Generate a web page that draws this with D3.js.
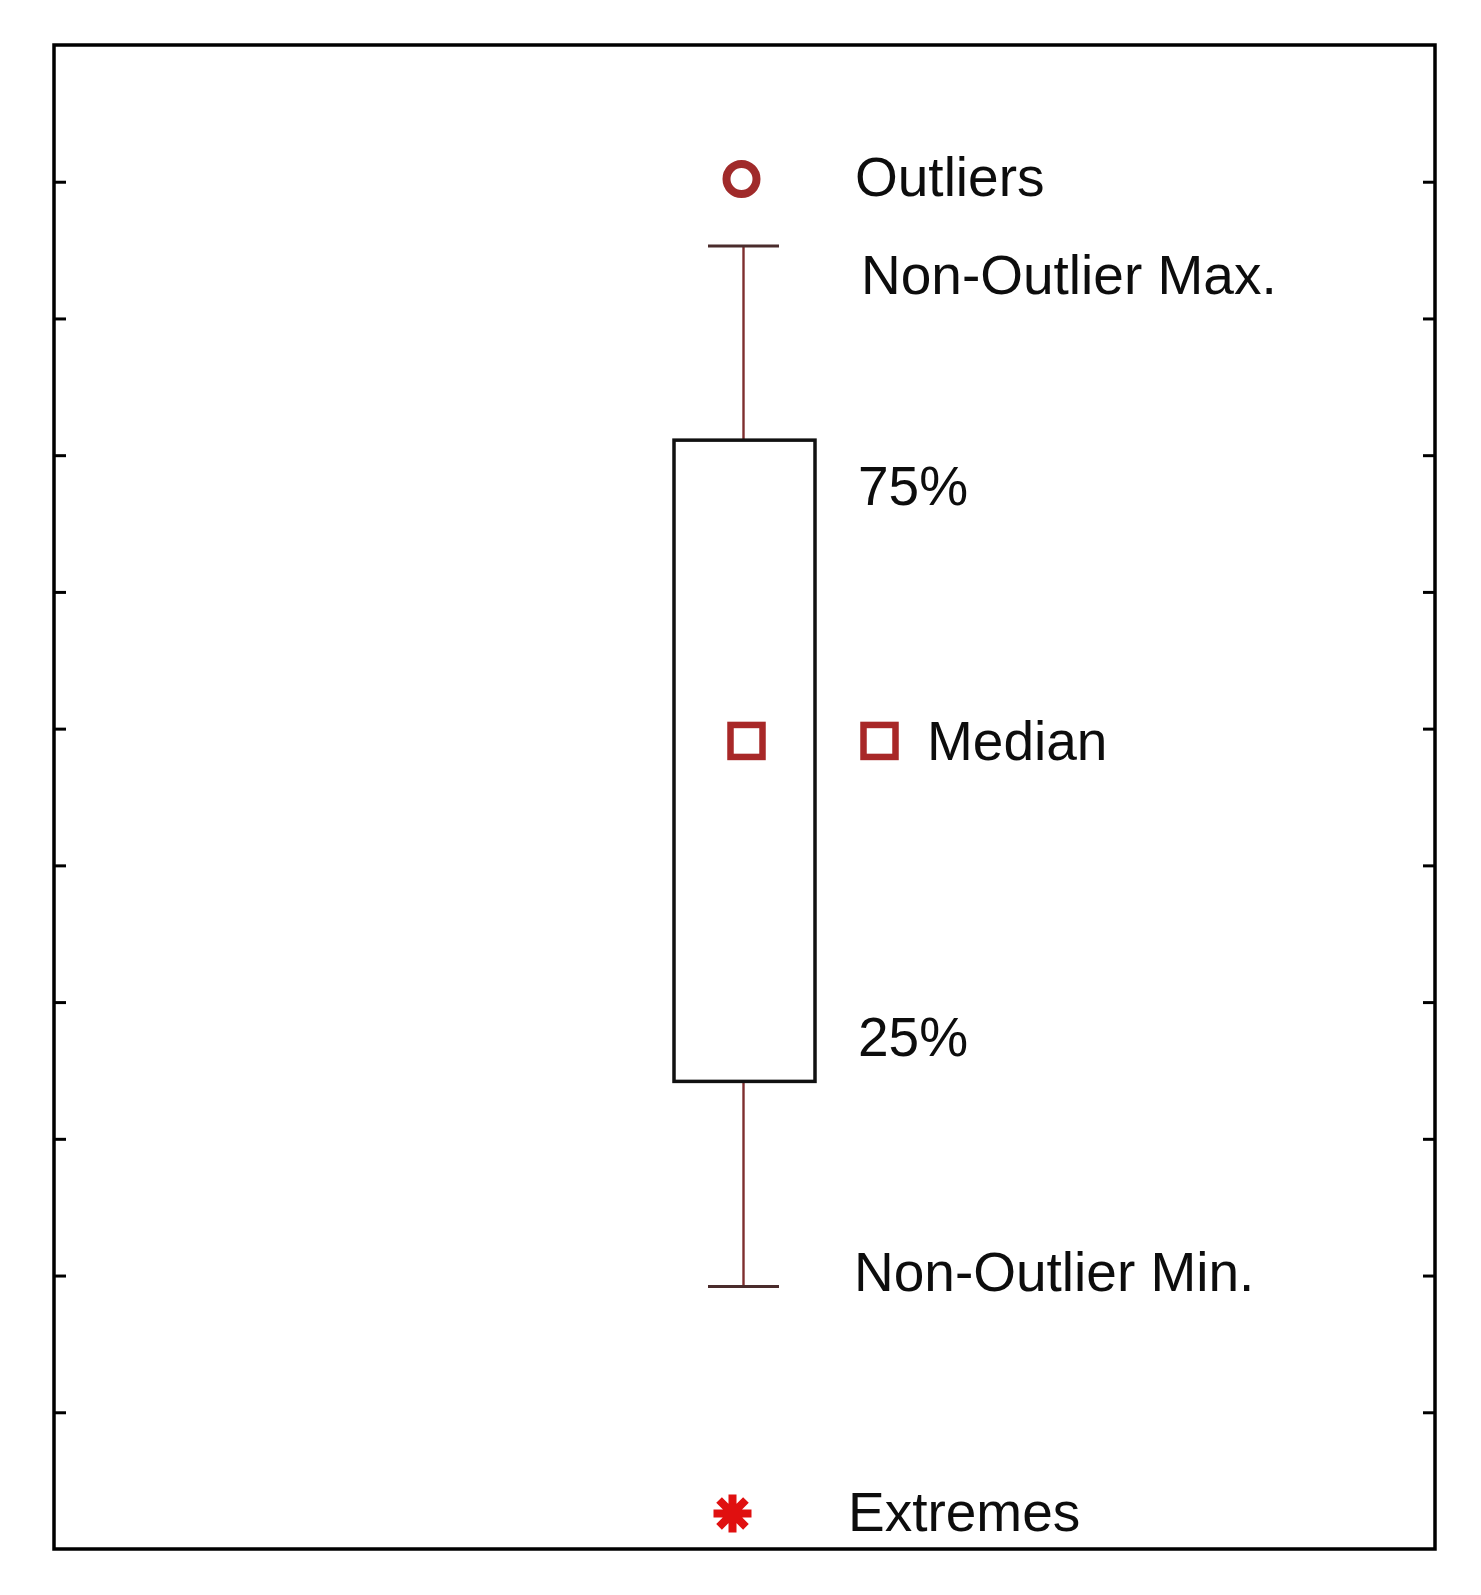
<!DOCTYPE html>
<html>
<head>
<meta charset="utf-8">
<script src="https://cdn.jsdelivr.net/npm/d3@7"></script>
<style>
  html, body { margin: 0; padding: 0; background: #fff; }
  svg { display: block; }
  text { font-family: "Liberation Sans", Arial, sans-serif; fill: #0d0d0d; }
</style>
</head>
<body>
<div id="chart"></div>
<script>
// ---- data ----
const categories = ["Sample"];
const yDomain = [0, 11];
const yTickValues = [1, 2, 3, 4, 5, 6, 7, 8, 9, 10];
const nonOutlierMax = [9.53];
const q75 = [8.11];
const median = [5.91];
const q25 = [3.42];
const nonOutlierMin = [1.92];
const outliers = [10.02];
const extremes = [0.26];
const labelTexts = ["Outliers", "Non-Outlier Max.", "75%", "Median", "25%", "Non-Outlier Min.", "Extremes"];
const labelAnchors = [outliers[0], nonOutlierMax[0], q75[0], median[0], q25[0], nonOutlierMin[0], extremes[0]];

// ---- layout ----
const W = 1481, H = 1595;
const frame = { left: 54, top: 45, right: 1435, bottom: 1549 };

const svg = d3.select("#chart").append("svg").attr("width", W).attr("height", H);

const y = d3.scaleLinear().domain(yDomain).range([frame.bottom, frame.top]);
const x = d3.scaleBand().domain(categories).range([frame.left, frame.right]).paddingInner(0).paddingOuter(0);
const cx = x(categories[0]) + x.bandwidth() / 2;

// ticks (inward, no labels)
const leftAxis = d3.axisRight(y).tickValues(yTickValues).tickSize(12).tickFormat("");
const rightAxis = d3.axisLeft(y).tickValues(yTickValues).tickSize(12).tickFormat("");
const gl = svg.append("g").attr("transform", `translate(${frame.left},0)`).call(leftAxis);
const gr = svg.append("g").attr("transform", `translate(${frame.right},0)`).call(rightAxis);
[gl, gr].forEach(g => {
  g.select(".domain").remove();
  g.selectAll(".tick line").attr("stroke", "#000").attr("stroke-width", 3);
});

// frame
svg.append("rect")
  .attr("x", frame.left).attr("y", frame.top)
  .attr("width", frame.right - frame.left).attr("height", frame.bottom - frame.top)
  .attr("fill", "none").attr("stroke", "#000").attr("stroke-width", 3.5);

const boxW = 141, capW = 71;
const wx = cx - 1;
const g = svg.append("g");

// whiskers
g.append("line").attr("x1", wx).attr("x2", wx).attr("y1", y(nonOutlierMax[0])).attr("y2", y(q75[0]))
  .attr("stroke", "#7e2e2e").attr("stroke-width", 2.4);
g.append("line").attr("x1", wx).attr("x2", wx).attr("y1", y(q25[0])).attr("y2", y(nonOutlierMin[0]))
  .attr("stroke", "#7e2e2e").attr("stroke-width", 2.4);
g.append("line").attr("x1", wx - capW / 2).attr("x2", wx + capW / 2).attr("y1", y(nonOutlierMax[0])).attr("y2", y(nonOutlierMax[0]))
  .attr("stroke", "#4a2c2c").attr("stroke-width", 2.8);
g.append("line").attr("x1", wx - capW / 2).attr("x2", wx + capW / 2).attr("y1", y(nonOutlierMin[0])).attr("y2", y(nonOutlierMin[0]))
  .attr("stroke", "#4a2c2c").attr("stroke-width", 2.8);

// box
g.append("rect")
  .attr("x", cx - boxW / 2).attr("y", y(q75[0]))
  .attr("width", boxW).attr("height", y(q25[0]) - y(q75[0]))
  .attr("fill", "none").attr("stroke", "#111").attr("stroke-width", 3.5);

// median marker
const sq = 32;
g.append("rect")
  .attr("x", cx + 2 - sq / 2).attr("y", y(median[0]) - sq / 2)
  .attr("width", sq).attr("height", sq)
  .attr("fill", "#fff").attr("stroke", "#a82828").attr("stroke-width", 6.5);

// outlier marker
g.selectAll("circle.out").data(outliers).enter().append("circle")
  .attr("class", "out")
  .attr("cx", cx - 3).attr("cy", d => y(d)).attr("r", 15)
  .attr("fill", "#fff").attr("stroke", "#a02a2a").attr("stroke-width", 8);

// extreme marker (8-spoke asterisk)
function asterisk(r) {
  const p = d3.path();
  for (let i = 0; i < 4; i++) {
    const a = i * Math.PI / 4;
    p.moveTo(-r * Math.cos(a), -r * Math.sin(a));
    p.lineTo(r * Math.cos(a), r * Math.sin(a));
  }
  return p.toString();
}
g.selectAll("path.ext").data(extremes).enter().append("path")
  .attr("class", "ext")
  .attr("transform", d => `translate(${cx - 12},${y(d)})`)
  .attr("d", asterisk(19))
  .attr("fill", "none").attr("stroke", "#e01010").attr("stroke-width", 8);
g.selectAll("circle.extc").data(extremes).enter().append("circle")
  .attr("cx", cx - 12).attr("cy", d => y(d)).attr("r", 10).attr("fill", "#e01010");

// legend median square
g.append("rect")
  .attr("x", 879.5 - sq / 2).attr("y", y(median[0]) - sq / 2)
  .attr("width", sq).attr("height", sq)
  .attr("fill", "#fff").attr("stroke", "#a82828").attr("stroke-width", 6.5);

// labels
const labelX = [855, 861, 858, 927, 858, 854, 848];
const labelDy = [17, 48, 65, 19, -25, 5, 18];
svg.selectAll("text.lbl").data(labelTexts).enter().append("text")
  .attr("class", "lbl")
  .attr("x", (d, i) => labelX[i])
  .attr("y", (d, i) => y(labelAnchors[i]) + labelDy[i])
  .attr("font-size", 55)
  .text(d => d);
</script>
</body>
</html>
